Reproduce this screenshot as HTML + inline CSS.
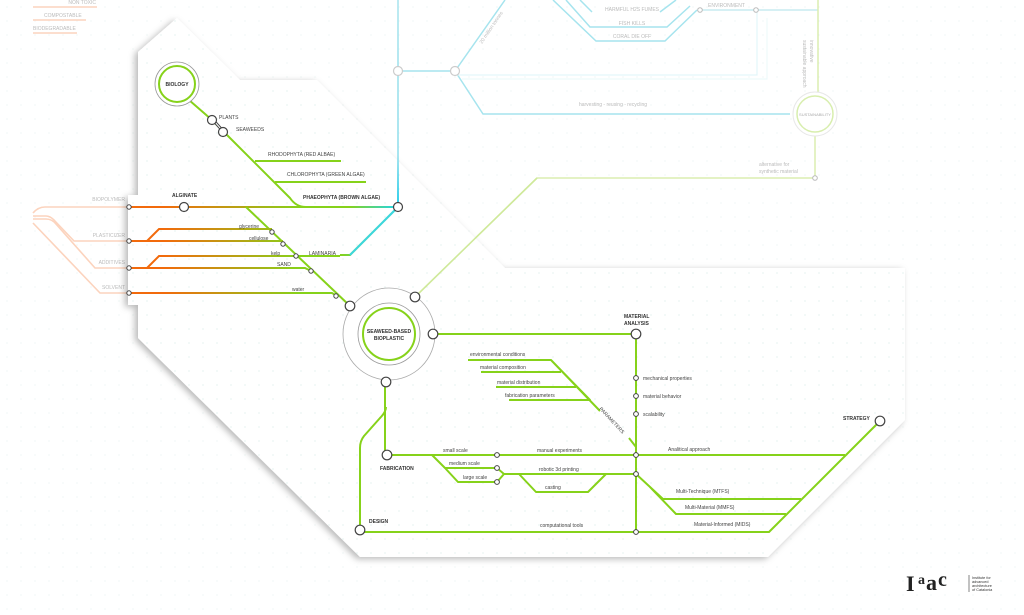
<!DOCTYPE html>
<html><head><meta charset="utf-8"><style>
html,body{margin:0;padding:0;background:#fff;}
svg{display:block;font-family:"Liberation Sans",sans-serif;}
.t{font-size:5px;fill:#444;}
.b{font-size:5px;fill:#333;font-weight:bold;}
.g{font-size:5px;fill:#bbb;}
.gr{fill:none;stroke:#86d21a;stroke-width:2;stroke-linejoin:round;}
.n{fill:#fff;stroke:#444;stroke-width:1.2;}
.ns{fill:#fff;stroke:#444;stroke-width:1;}
.pe{fill:none;stroke:#fcd3bd;stroke-width:1.6;}
.cy{fill:none;stroke:#a6e4ee;stroke-width:1.5;}
.yg{fill:none;stroke:#dbedb0;stroke-width:1.5;}
</style></head><body>
<svg width="1024" height="615" viewBox="0 0 1024 615" xmlns="http://www.w3.org/2000/svg">
<defs>
<pattern id="dots" width="14" height="14" patternUnits="userSpaceOnUse"><circle cx="7" cy="7" r="0.6" fill="#d5e9e6"/></pattern>
<filter id="sh" x="-10%" y="-10%" width="120%" height="120%"><feDropShadow dx="-3" dy="2" stdDeviation="3.5" flood-color="#000" flood-opacity="0.28"/></filter>
<linearGradient id="og" gradientUnits="userSpaceOnUse" x1="129" y1="0" x2="300" y2="0"><stop offset="0" stop-color="#f26a0c"/><stop offset="0.2" stop-color="#f26a0c"/><stop offset="1" stop-color="#86d21a"/></linearGradient>
<linearGradient id="cg" gradientUnits="userSpaceOnUse" x1="0" y1="0" x2="0" y2="207"><stop offset="0" stop-color="#b6e8f0"/><stop offset="0.75" stop-color="#9fe2ee"/><stop offset="1" stop-color="#10c8e8"/></linearGradient>
<linearGradient id="lg" gradientUnits="userSpaceOnUse" x1="300" y1="0" x2="398" y2="0"><stop offset="0" stop-color="#86d21a"/><stop offset="0.5" stop-color="#86d21a"/><stop offset="1" stop-color="#1fd6ee"/></linearGradient>
<linearGradient id="lam" gradientUnits="userSpaceOnUse" x1="340" y1="0" x2="398" y2="0"><stop offset="0" stop-color="#86d21a"/><stop offset="1" stop-color="#1fd6ee"/></linearGradient>
</defs>
<rect width="1024" height="615" fill="#fff"/>
<rect width="1024" height="615" fill="url(#dots)" opacity="0.6"/>

<text x="96" y="4" class="g" text-anchor="end">NON TOXIC</text>
<path d="M33,7 H97" class="pe"/>
<text x="44" y="17" class="g">COMPOSTABLE</text>
<path d="M33,20 H86" class="pe"/>
<text x="33" y="30" class="g">BIODEGRADABLE</text>
<path d="M33,33 H77" class="pe"/>

<path d="M398,71 H455 L505,0" class="cy"/>
<path d="M455,71 L483,114 H790" class="cy"/>
<path d="M455,75 H757 V12" fill="none" stroke="#e3f6f9" stroke-width="1.2"/>
<path d="M462,79 H767 V18" fill="none" stroke="#eef9fb" stroke-width="1.2"/>
<path d="M553,0 L596,41 H665 L697,10" class="cy"/>
<path d="M566,0 L590,27 H667 L690,6" class="cy"/>
<path d="M580,0 L592,12" class="cy"/>
<path d="M660,12 L676,0" class="cy"/>
<text x="632" y="11" class="g" text-anchor="middle">HARMFUL H2S FUMES</text>
<text x="632" y="25" class="g" text-anchor="middle">FISH KILLS</text>
<text x="632" y="38" class="g" text-anchor="middle">CORAL DIE OFF</text>
<path d="M700,10 H818" stroke="#c8ecf0" stroke-width="1.5" fill="none"/>
<circle cx="700" cy="10" r="2.3" fill="#fff" stroke="#bbb"/>
<circle cx="756" cy="10" r="2.3" fill="#fff" stroke="#bbb"/>
<text x="708" y="7" class="g">ENVIRONMENT</text>
<text class="g" transform="translate(482,44) rotate(-56)">20 million tonnes</text>
<text x="613" y="106" class="g" text-anchor="middle">harvesting - reusing - recycling</text>
<path d="M818,0 V92" class="yg"/>
<path d="M815,136 V178 H537 L415,297" class="yg"/>
<circle cx="815" cy="114" r="22" fill="#fff" stroke="#e8e8e8"/>
<circle cx="815" cy="114" r="18" fill="#fff" stroke="#d8eeae" stroke-width="1.5"/>
<text x="815" y="116" font-size="4" fill="#aaa" text-anchor="middle">SUSTAINABILITY</text>
<circle cx="815" cy="178" r="2.3" fill="#fff" stroke="#bbb"/>
<text x="759" y="166" class="g">alternative for</text>
<text x="759" y="173" class="g">synthetic material</text>
<text class="g" transform="translate(803,40) rotate(90)">sustainable approach</text>
<text class="g" transform="translate(810,40) rotate(90)">innovative</text>

<path d="M128,207 H45 Q38,207 33,213" class="pe"/>
<path d="M33,216 H46 Q50,216 54,220 L74,241 H128" class="pe"/>
<path d="M33,219 H46 Q52,219 56,224 L95,268 H128" class="pe"/>
<path d="M33,223 L100,293 H128" class="pe"/>
<text x="125" y="201" class="g" text-anchor="end">BIOPOLYMER</text>
<text x="125" y="237" class="g" text-anchor="end">PLASTICIZER</text>
<text x="125" y="264" class="g" text-anchor="end">ADDITIVES</text>
<text x="125" y="289" class="g" text-anchor="end">SOLVENT</text>

<path d="M138,52 L177,18 L240,80 L317,80 L505,268 L905,268 L905,420 L768,557 L360,557 L138,338 L138,305 L128,305 L128,195 L138,195 Z" fill="#fff" filter="url(#sh)"/>
<path d="M138,52 L177,18 L240,80 L317,80 L505,268 L905,268 L905,420 L768,557 L360,557 L138,338 L138,305 L128,305 L128,195 L138,195 Z" fill="url(#dots)"/>

<path d="M398,0 V207" stroke="url(#cg)" stroke-width="1.8" fill="none"/>
<circle cx="398" cy="71" r="4.5" fill="#fff" stroke="#ccc" stroke-width="1.2"/>
<circle cx="455" cy="71" r="4.5" fill="#fff" stroke="#ccc" stroke-width="1.2"/>
<path d="M537,178 L415,297" stroke="#cfe99a" stroke-width="1.6" fill="none"/>

<path d="M189,100 L212,120 L223,131 L290,198 Q296,207 306,207" class="gr"/>
<path d="M214,121 L222,130" stroke="#444" stroke-width="3" fill="none"/>
<path d="M214,121 L222,130" stroke="#fff" stroke-width="1" fill="none"/>
<path d="M255,161 H341" class="gr"/>
<path d="M275,182 H366" class="gr"/>
<text x="268" y="156" class="t">RHODOPHYTA (RED ALBAE)</text>
<text x="287" y="176" class="t">CHLOROPHYTA (GREEN ALGAE)</text>
<text x="303" y="199" class="b">PHAEOPHYTA (BROWN ALGAE)</text>
<text x="219" y="119" class="t">PLANTS</text>
<text x="236" y="131" class="t">SEAWEEDS</text>

<path d="M129,207 H300" stroke="url(#og)" stroke-width="2" fill="none"/>
<path d="M300,207 H398" stroke="url(#lg)" stroke-width="2" fill="none"/>
<path d="M398,207 L350,255 H340" stroke="url(#lam)" stroke-width="2" fill="none"/>
<path d="M398,207 L350,255" stroke="#3cd6dc" stroke-width="2" fill="none"/>
<text x="172" y="197" class="b">ALGINATE</text>
<text x="309" y="255" class="t">LAMINARIA</text>

<path d="M246,207 L350,306" class="gr"/>
<path d="M129,241 H283" stroke="url(#og)" stroke-width="2" fill="none"/>
<path d="M147,241 L159,229 H272" stroke="url(#og)" stroke-width="2" fill="none"/>
<path d="M129,268 H305 L311,271" stroke="url(#og)" stroke-width="2" fill="none"/>
<path d="M147,268 L159,256 H340" stroke="url(#og)" stroke-width="2" fill="none"/>
<path d="M129,293 H332 L337,296" stroke="url(#og)" stroke-width="2" fill="none"/>
<text x="239" y="228" class="t">glycerine</text>
<text x="249" y="240" class="t">cellulose</text>
<text x="271" y="255" class="t">kelp</text>
<text x="277" y="266" class="t">SAND</text>
<text x="292" y="291" class="t">water</text>
<circle cx="129" cy="207" r="2.2" class="ns"/>
<circle cx="129" cy="241" r="2.2" class="ns"/>
<circle cx="129" cy="268" r="2.2" class="ns"/>
<circle cx="129" cy="293" r="2.2" class="ns"/>
<circle cx="272" cy="232" r="2.2" class="ns"/>
<circle cx="283" cy="244" r="2.2" class="ns"/>
<circle cx="296" cy="256" r="2.2" class="ns"/>
<circle cx="311" cy="271" r="2.2" class="ns"/>
<circle cx="336" cy="296" r="2.2" class="ns"/>
<circle cx="184" cy="207" r="4.5" class="n"/>
<circle cx="398" cy="207" r="4.5" class="n"/>
<circle cx="212" cy="120" r="4.5" class="n"/>
<circle cx="223" cy="132" r="4.5" class="n"/>

<circle cx="177" cy="84" r="22" fill="#fff" stroke="#999" stroke-width="0.8"/>
<circle cx="177" cy="84" r="18" fill="#fff" stroke="#86d21a" stroke-width="2"/>
<text x="177" y="86" class="b" text-anchor="middle">BIOLOGY</text>

<path d="M433,334 H636 V532" class="gr"/>
<path d="M385,382 V455 H845" class="gr"/>
<path d="M386,407 Q386,412 380,418 L364,436 Q360,441 360,448 V532 H769 L880,421" class="gr"/>
<path d="M468,360 H551 L590,400 H509 M481,372 H561 M496,387 H576 M551,360 L600,411" class="gr"/>
<path d="M629,438 L636,447" class="gr"/>
<text class="t" transform="translate(599,409) rotate(47)">PARAMETERS</text>
<text x="470" y="356" class="t">environmental conditions</text>
<text x="480" y="369" class="t">material composition</text>
<text x="497" y="384" class="t">material distribution</text>
<text x="505" y="397" class="t">fabrication parameters</text>
<path d="M432,455 L445,468 H497 M445,468 L458,482 H497" class="gr"/>
<path d="M497,468 L504,474 L497,482 M504,474 H636 L663,499 H801 M650,487 L676,514 H786" class="gr"/>
<path d="M519,474 L536,492 H588 L606,474" class="gr"/>
<text x="443" y="452" class="t">small scale</text>
<text x="449" y="465" class="t">medium scale</text>
<text x="463" y="479" class="t">large scale</text>
<text x="537" y="452" class="t">manual experiments</text>
<text x="539" y="471" class="t">robotic 3d printing</text>
<text x="545" y="489" class="t">casting</text>
<text x="668" y="451" class="t">Analitical approach</text>
<text x="676" y="493" class="t">Multi-Technique (MTFS)</text>
<text x="685" y="509" class="t">Multi-Material (MMFS)</text>
<text x="694" y="526" class="t">Material-Informed (MIDS)</text>
<text x="540" y="527" class="t">computational tools</text>
<text x="643" y="380" class="t">mechanical properties</text>
<text x="643" y="398" class="t">material behavior</text>
<text x="643" y="416" class="t">scalability</text>
<text x="624" y="318" class="b">MATERIAL</text>
<text x="624" y="325" class="b">ANALYSIS</text>
<text x="843" y="420" class="b">STRATEGY</text>
<text x="380" y="470" class="b">FABRICATION</text>
<text x="369" y="523" class="b">DESIGN</text>
<circle cx="636" cy="378" r="2.4" class="ns"/>
<circle cx="636" cy="396" r="2.4" class="ns"/>
<circle cx="636" cy="414" r="2.4" class="ns"/>
<circle cx="636" cy="455" r="2.4" class="ns"/>
<circle cx="636" cy="474" r="2.4" class="ns"/>
<circle cx="636" cy="532" r="2.4" class="ns"/>
<circle cx="497" cy="455" r="2.4" class="ns"/>
<circle cx="497" cy="468" r="2.4" class="ns"/>
<circle cx="497" cy="482" r="2.4" class="ns"/>
<circle cx="636" cy="334" r="4.8" class="n"/>
<circle cx="880" cy="421" r="4.8" class="n"/>
<circle cx="387" cy="455" r="4.8" class="n"/>
<circle cx="360" cy="530" r="4.8" class="n"/>

<circle cx="389" cy="334" r="46" fill="#fff" stroke="#aaa" stroke-width="0.8"/>
<circle cx="389" cy="334" r="31" fill="#fff" stroke="#999" stroke-width="0.8"/>
<circle cx="389" cy="334" r="26" fill="#fff" stroke="#86d21a" stroke-width="2"/>
<text x="389" y="333" class="b" text-anchor="middle">SEAWEED-BASED</text>
<text x="389" y="340" class="b" text-anchor="middle">BIOPLASTIC</text>
<circle cx="350" cy="306" r="4.8" class="n"/>
<circle cx="415" cy="297" r="4.8" class="n"/>
<circle cx="433" cy="334" r="4.8" class="n"/>
<circle cx="386" cy="382" r="4.8" class="n"/>

<g font-family="Liberation Serif,serif" font-weight="bold" fill="#222">
<text x="906" y="591" font-size="22">I</text>
<text x="918" y="584" font-size="14">a</text>
<text x="926" y="590" font-size="22">a</text>
<text x="938" y="586" font-size="20">c</text>
</g>
<path d="M969,575 V592" stroke="#333" stroke-width="0.6"/>
<g font-size="3.8" fill="#333"><text x="972" y="579">Institute for</text><text x="972" y="583">advanced</text><text x="972" y="587">architecture</text><text x="972" y="591">of Catalonia</text></g>
</svg>
</body></html>
